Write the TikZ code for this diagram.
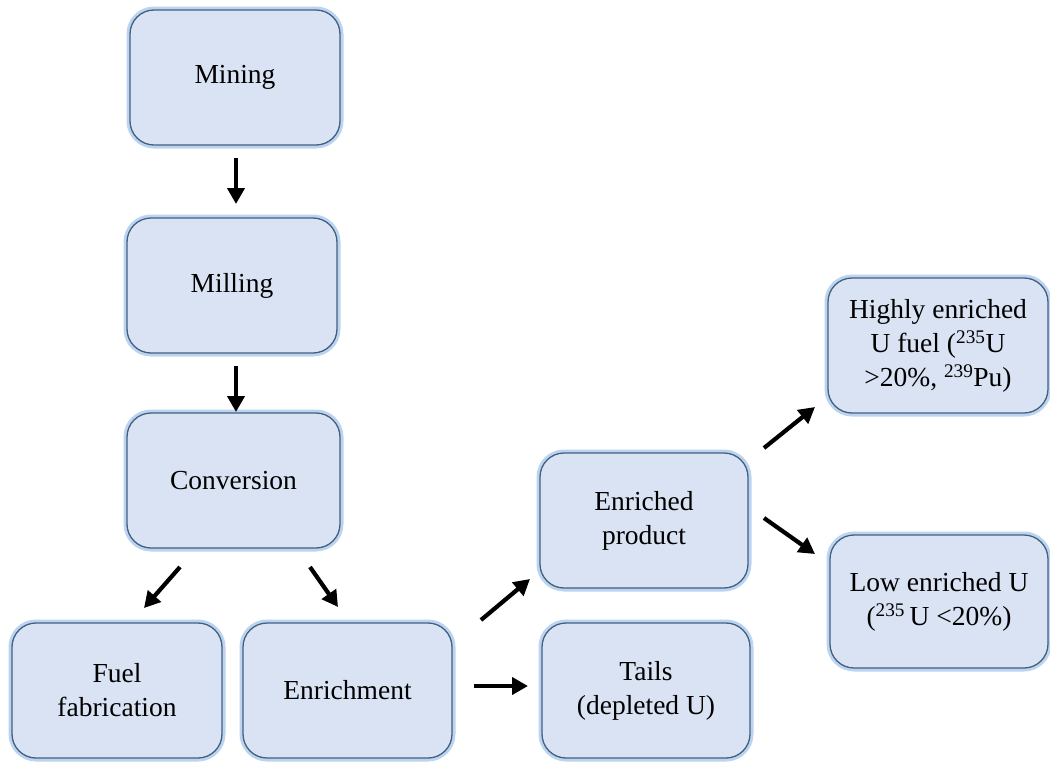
\documentclass[tikz,border=0pt]{standalone}
\usepackage{fontspec}
\setmainfont{Liberation Serif}
\usetikzlibrary{arrows.meta}
\definecolor{boxfill}{HTML}{DAE3F3}
\definecolor{boxline}{HTML}{42607F}
\definecolor{glow}{HTML}{BCD4F0}
\tikzset{
  stagebox/.style={draw=boxline, line width=1.3pt, fill=boxfill, rounded corners=24pt,
    preaction={draw=glow, line width=7pt, rounded corners=24pt},
    minimum width=#1, minimum height=135pt, align=center, inner sep=2pt,
    font=\fontsize{27.5}{34}\selectfont},
  stagebox/.default=210pt,
  flow/.style={line width=4.2pt, -{Triangle[length=16pt,width=17pt]}}
}
\begin{document}
\begin{tikzpicture}[x=1pt,y=-1pt]
\useasboundingbox (0,0) rectangle (1050,761);
\node[stagebox] (mining) at (235,77.5) {Mining};
\node[stagebox] (milling) at (232,285.5) {Milling};
\node[stagebox=213pt] (conv) at (233.5,480.5) {Conversion};
\node[stagebox] (fuel) at (117,690.5) {Fuel\\fabrication};
\node[stagebox=209pt] (enrich) at (347.5,690.5) {Enrichment};
\node[stagebox=208pt] (prod) at (644,520.5) {Enriched\\product};
\node[stagebox=208pt] (tails) at (646,690.5) {Tails\\(depleted U)};
\node[stagebox=220pt] (heu) at (938,345.5) {Highly enriched\\U fuel (\textsuperscript{235}U\\>20\%, \textsuperscript{239}Pu)};
\node[stagebox=218pt, minimum height=133pt] (leu) at (939,601.5) {Low enriched U\\(\textsuperscript{235}\,U <20\%)};
% arrow end coordinates
\coordinate (a1s) at (236,158); \coordinate (a1e) at (236,204);
\coordinate (a2s) at (236,366); \coordinate (a2e) at (236,412);
\coordinate (a3s) at (180,567); \coordinate (a3e) at (144,608);
\coordinate (a4s) at (310,567); \coordinate (a4e) at (338,607);
\coordinate (a5s) at (481,620); \coordinate (a5e) at (530,579);
\coordinate (a6s) at (474,686); \coordinate (a6e) at (528,686);
\coordinate (a7s) at (764,448); \coordinate (a7e) at (815,407);
\coordinate (a8s) at (764,518); \coordinate (a8e) at (815,554);
\draw[flow] (a1s) -- (a1e);
\draw[flow] (a2s) -- (a2e);
\draw[flow] (a3s) -- (a3e);
\draw[flow] (a4s) -- (a4e);
\draw[flow] (a5s) -- (a5e);
\draw[flow] (a6s) -- (a6e);
\draw[flow] (a7s) -- (a7e);
\draw[flow] (a8s) -- (a8e);
\end{tikzpicture}
\end{document}
